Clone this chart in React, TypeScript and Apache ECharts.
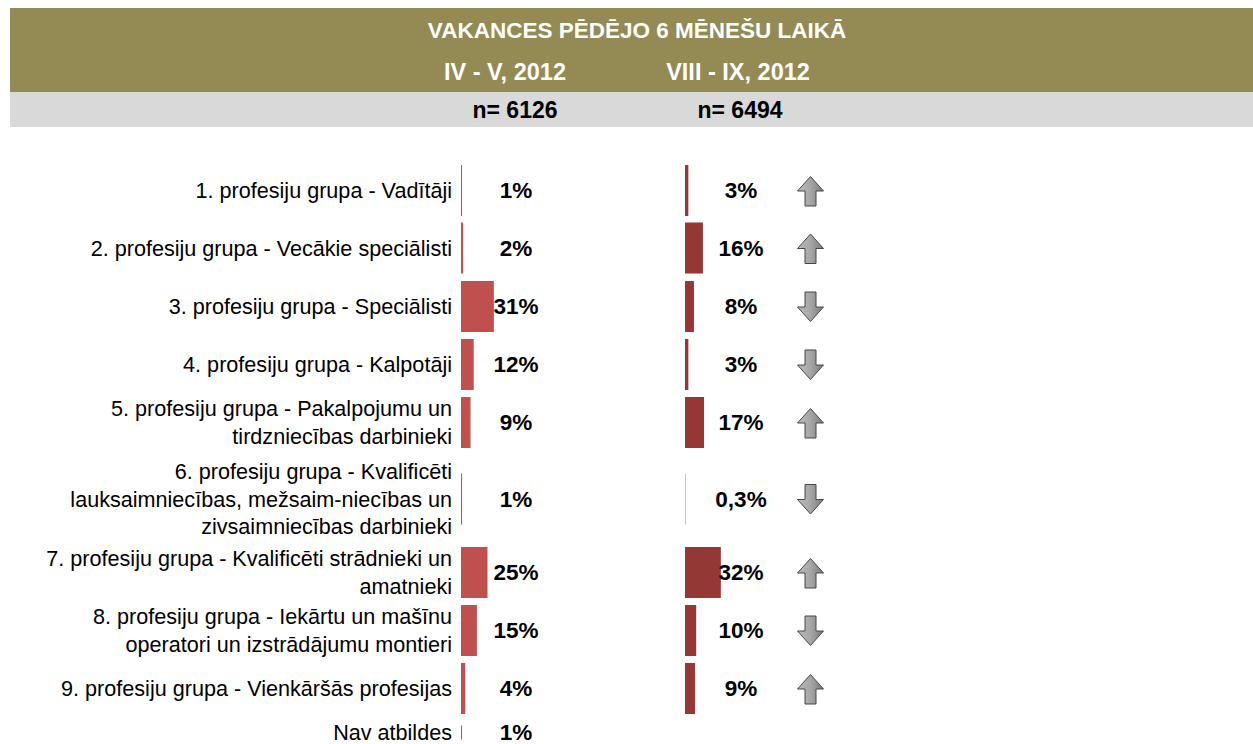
import React, { useEffect, useRef } from "react";
import * as echarts from "echarts";

// ---------- data ----------
const title = "VAKANCES PĒDĒJO 6 MĒNEŠU LAIKĀ";
const periods = ["IV - V, 2012", "VIII - IX, 2012"];
const sampleSizes = [6126, 6494];
const categories = [
  "1. profesiju grupa - Vadītāji",
  "2. profesiju grupa - Vecākie speciālisti",
  "3. profesiju grupa - Speciālisti",
  "4. profesiju grupa - Kalpotāji",
  "5. profesiju grupa - Pakalpojumu un\ntirdzniecības darbinieki",
  "6. profesiju grupa - Kvalificēti\nlauksaimniecības, mežsaim-niecības un\nzivsaimniecības darbinieki",
  "7. profesiju grupa - Kvalificēti strādnieki un\namatnieki",
  "8. profesiju grupa - Iekārtu un mašīnu\noperatori un izstrādājumu montieri",
  "9. profesiju grupa - Vienkāršās profesijas",
  "Nav atbildes",
];
const valuesAprMay = [1, 2, 31, 12, 9, 1, 25, 15, 4, 1];
const valuesAugSep: (number | null)[] = [3, 16, 8, 3, 17, 0.3, 32, 10, 9, null];

// ---------- layout (not data) ----------
const ROW_CENTER = [190.5, 248, 306.5, 364.5, 422.5, 499, 572.5, 630.5, 688.5, 732.5];
const ROW_HEIGHT = [58, 58, 58, 58, 58, 88, 58, 58, 58, 14];
const BAR_W = 51;
const COL_X = [461, 685];
const COL_PX_PER_PCT = [1.06, 1.12];
const COL_LABEL_OFFSET = [55, 56];
const COL_COLOR = ["#c0504d", "#953735"];
const ARROW_X = 810.5;
const FONT = "'Liberation Sans', Arial, sans-serif";

const fmt = (v: number) =>
  v < 1 ? String(v).replace(".", ",") + "%" : Math.round(v) + "%";

function arrow(up: boolean, cy: number) {
  const s = up ? 1 : -1;
  const pts = [
    [0, -14.5],
    [13, 0],
    [5.5, 0],
    [5.5, 15],
    [-5.5, 15],
    [-5.5, 0],
    [-13, 0],
  ].map(([x, y]) => [ARROW_X + x, cy + 0.5 + s * y]);
  return {
    type: "polygon",
    shape: { points: pts },
    style: {
      fill: new echarts.graphic.LinearGradient(0, 0, 1, 0, [
        { offset: 0, color: "#bdbdbd" },
        { offset: 0.5, color: "#a6a6a6" },
        { offset: 1, color: "#7a7a7a" },
      ]),
      stroke: "#474747",
      lineWidth: 1,
    },
  };
}

export default function App() {
  const ref = useRef<HTMLDivElement>(null);
  useEffect(() => {
    document.body.style.margin = "0";
    document.body.style.overflow = "hidden";
    const chart = echarts.init(ref.current!, null, { renderer: "svg" });

    const grids: any[] = [];
    const xAxes: any[] = [];
    const yAxes: any[] = [];
    const series: any[] = [];
    const cols = [valuesAprMay, valuesAugSep];

    categories.forEach((cat, r) => {
      cols.forEach((vals, c) => {
        const idx = grids.length;
        grids.push({
          left: COL_X[c],
          top: ROW_CENTER[r] - ROW_HEIGHT[r] / 2,
          width: 100 * COL_PX_PER_PCT[c],
          height: ROW_HEIGHT[r],
          containLabel: false,
          outerBoundsMode: "none",
        });
        xAxes.push({ gridIndex: idx, type: "value", min: 0, max: 100, show: false });
        yAxes.push({
          gridIndex: idx,
          type: "category",
          data: [cat],
          axisLine: { show: false },
          axisTick: { show: false },
          splitLine: { show: false },
          axisLabel: {
            show: c === 0,
            margin: 9,
            fontSize: 21.6,
            lineHeight: 27.5,
            color: "#000",
            fontFamily: FONT,
            align: "right",
          },
        });
        const v = vals[r];
        series.push({
          type: "bar",
          xAxisIndex: idx,
          yAxisIndex: idx,
          data: [v],
          barWidth: BAR_W,
          itemStyle: { color: COL_COLOR[c] },
          label: {
            show: v != null,
            position: [COL_LABEL_OFFSET[c], "50%"],
            align: "center",
            verticalAlign: "middle",
            formatter: (p: any) => fmt(p.value),
            fontSize: 22.5,
            fontWeight: "bold",
            fontFamily: FONT,
            color: "#000",
          },
        });
      });
    });

    const graphics: any[] = [
      { type: "rect", shape: { x: 10, y: 8, width: 1243, height: 84 }, style: { fill: "#948a54" } },
      { type: "rect", shape: { x: 10, y: 92, width: 1243, height: 35 }, style: { fill: "#d9d9d9" } },
      {
        type: "text",
        style: { text: title, x: 637, y: 30, align: "center", verticalAlign: "middle", fill: "#fff", fontSize: 22.5, fontWeight: "bold", fontFamily: FONT },
      },
    ];
    const headX = [505, 738];
    const nX = [515, 740];
    periods.forEach((p, i) => {
      graphics.push({
        type: "text",
        style: { text: p, x: headX[i], y: 72, align: "center", verticalAlign: "middle", fill: "#fff", fontSize: 23.5, fontWeight: "bold", fontFamily: FONT },
      });
      graphics.push({
        type: "text",
        style: { text: "n= " + sampleSizes[i], x: nX[i], y: 110, align: "center", verticalAlign: "middle", fill: "#000", fontSize: 23, fontWeight: "bold", fontFamily: FONT },
      });
    });
    categories.forEach((_, r) => {
      const a = valuesAprMay[r];
      const b = valuesAugSep[r];
      if (a != null && b != null && a !== b) graphics.push(arrow(b > a, ROW_CENTER[r]));
    });

    chart.setOption({
      animation: false,
      backgroundColor: "#fff",
      grid: grids,
      xAxis: xAxes,
      yAxis: yAxes,
      series,
      graphic: graphics,
    });
    return () => chart.dispose();
  }, []);
  return <div ref={ref} style={{ width: 1253, height: 744 }} />;
}
